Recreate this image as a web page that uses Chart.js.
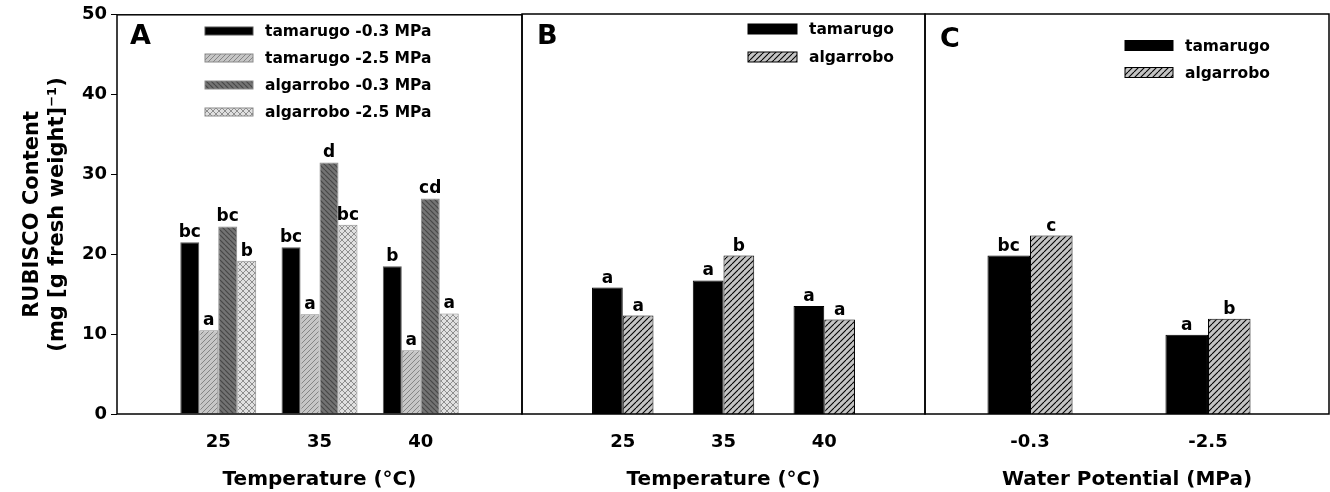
<!DOCTYPE html>
<html>
<head>
<meta charset="utf-8">
<script src="https://cdn.jsdelivr.net/npm/chart.js@4.4.0/dist/chart.umd.min.js"></script>
<style>
  body { margin: 0; background: #fff; }
  .panel { position: absolute; left: 0; top: 0; width: 1330px; height: 492px; }
</style>
</head>
<body>
<div class="panel"><canvas id="chartA"></canvas></div>
<div class="panel"><canvas id="chartB"></canvas></div>
<div class="panel"><canvas id="chartC"></canvas></div>
<script>
// datos
const tempLabels = ['25', '35', '40'];
const potLabels = ['-0.3', '-2.5'];

// panel A
const tamarugoWet = [21.5, 20.9, 18.5];
const tamarugoDry = [10.5, 12.5, 8.0];
const algarroboWet = [23.5, 31.5, 27.0];
const algarroboDry = [19.2, 23.7, 12.6];
const lettersTamWet = ['bc', 'bc', 'b'];
const lettersTamDry = ['a', 'a', 'a'];
const lettersAlgWet = ['bc', 'd', 'cd'];
const lettersAlgDry = ['b', 'bc', 'a'];

// panel B
const tamarugoTemp = [15.8, 16.7, 13.5];
const algarroboTemp = [12.3, 19.8, 11.8];
const lettersTamTemp = ['a', 'a', 'a'];
const lettersAlgTemp = ['a', 'b', 'a'];

// panel C
const tamarugoPot = [19.8, 9.9];
const algarroboPot = [22.3, 11.9];
const lettersTamPot = ['bc', 'a'];
const lettersAlgPot = ['c', 'b'];

const FONT = 'DejaVu Sans';
Chart.defaults.font.family = FONT;
Chart.defaults.font.weight = 'bold';
Chart.defaults.color = '#000';

// tramas
function hatch(bg, fg, size, dirs, lw) {
  const c = document.createElement('canvas');
  c.width = size; c.height = size;
  const g = c.getContext('2d');
  g.fillStyle = bg;
  g.fillRect(0, 0, size, size);
  g.strokeStyle = fg;
  g.lineWidth = lw;
  for (const k of [-size, 0, size]) {
    if (dirs.includes('/')) {
      g.beginPath(); g.moveTo(k, size); g.lineTo(k + size, 0); g.stroke();
    }
    if (dirs.includes('\\')) {
      g.beginPath(); g.moveTo(k, 0); g.lineTo(k + size, size); g.stroke();
    }
  }
  return g.createPattern(c, 'repeat');
}

const fillTamDry = hatch('#c6c6c6', '#858585', 5, '/', 1);
const fillAlgWet = hatch('#737373', '#474747', 5, '\\', 1.2);
const fillAlgDry = hatch('#e0e0e0', '#8e8e8e', 6, '/\\', 1);
const fillAlgBC = hatch('#c4c4c4', '#000', 6, '/', 1.1);

// marco del panel
const framePlugin = {
  id: 'frame',
  afterDraw(chart) {
    const a = chart.chartArea;
    const ctx = chart.ctx;
    ctx.save();
    ctx.strokeStyle = '#000';
    ctx.lineWidth = 1.5;
    ctx.strokeRect(a.left, a.top, a.right - a.left, a.bottom - a.top);
    ctx.restore();
  }
};

// letras sobre las barras
const lettersPlugin = {
  id: 'letters',
  afterDatasetsDraw(chart) {
    const ctx = chart.ctx;
    ctx.save();
    ctx.font = 'bold 17px ' + FONT;
    ctx.fillStyle = '#000';
    ctx.textAlign = 'center';
    ctx.textBaseline = 'bottom';
    chart.data.datasets.forEach((ds, i) => {
      chart.getDatasetMeta(i).data.forEach((bar, j) => {
        ctx.fillText(ds.letters[j], bar.x, bar.y - 1);
      });
    });
    ctx.restore();
  }
};

// leyenda y letra del panel
const panelLegend = {
  id: 'panelLegend',
  afterDraw(chart, args, opts) {
    const ctx = chart.ctx;
    ctx.save();
    ctx.fillStyle = '#000';
    ctx.font = 'bold 27px ' + FONT;
    ctx.textBaseline = 'alphabetic';
    ctx.fillText(opts.letter, opts.letterX, opts.letterY);
    ctx.font = 'bold 15.5px ' + FONT;
    ctx.textBaseline = 'middle';
    chart.data.datasets.forEach((ds, i) => {
      const y = opts.y + i * opts.rowH;
      ctx.fillStyle = ds.backgroundColor;
      ctx.fillRect(opts.x, y - opts.boxH / 2, opts.boxW, opts.boxH);
      ctx.strokeStyle = ds.borderColor;
      ctx.lineWidth = 1;
      ctx.strokeRect(opts.x, y - opts.boxH / 2, opts.boxW, opts.boxH);
      ctx.fillStyle = '#000';
      ctx.fillText(ds.label, opts.x + opts.boxW + 12, y + 1);
    });
    ctx.restore();
  }
};

function points(values) {
  return values.map((v, i) => ({ x: i + 1, y: v }));
}

function makeOptions(cfg) {
  return {
    responsive: true,
    maintainAspectRatio: false,
    animation: false,
    layout: { padding: { left: cfg.left, right: cfg.right, top: 14, bottom: 0 } },
    datasets: { bar: { categoryPercentage: cfg.catPct, barPercentage: 1 } },
    plugins: {
      legend: { display: false },
      tooltip: { enabled: false },
      panelLegend: cfg.legend
    },
    scales: {
      x: {
        type: 'linear',
        min: cfg.xmin,
        max: cfg.xmax,
        offset: false,
        grid: { display: false, offset: false },
        border: { display: false },
        afterBuildTicks: (scale) => {
          scale.ticks = cfg.labels.map((l, i) => ({ value: i + 1 }));
        },
        afterFit: (scale) => { scale.height = 78; },
        ticks: {
          autoSkip: false,
          maxRotation: 0,
          padding: 10,
          font: { size: 18, weight: 'bold' },
          callback: (v, i) => cfg.labels[i]
        },
        title: {
          display: true,
          text: cfg.xTitle,
          font: { size: 20, weight: 'bold' },
          padding: { top: 0, bottom: 0 }
        }
      },
      y: {
        display: cfg.showY,
        min: 0,
        max: 50,
        afterFit: (scale) => { scale.width = cfg.showY ? 117 : 0; },
        border: { display: false },
        grid: { drawOnChartArea: false, drawTicks: true, tickLength: 6, color: '#000', lineWidth: 1 },
        ticks: { stepSize: 10, padding: 4, font: { size: 18, weight: 'bold' } },
        title: {
          display: true,
          text: ['RUBISCO Content', '(mg [g fresh weight]\u207B\u00B9)'],
          font: { size: 21, weight: 'bold' },
          padding: { top: 20, bottom: 0 }
        }
      }
    }
  };
}

new Chart(document.getElementById('chartA'), {
  type: 'bar',
  data: {
    datasets: [
      { label: 'tamarugo -0.3 MPa', data: points(tamarugoWet), letters: lettersTamWet,
        backgroundColor: '#000', borderColor: '#555', borderWidth: 1 },
      { label: 'tamarugo -2.5 MPa', data: points(tamarugoDry), letters: lettersTamDry,
        backgroundColor: fillTamDry, borderColor: '#8a8a8a', borderWidth: 1 },
      { label: 'algarrobo -0.3 MPa', data: points(algarroboWet), letters: lettersAlgWet,
        backgroundColor: fillAlgWet, borderColor: '#8a8a8a', borderWidth: 1 },
      { label: 'algarrobo -2.5 MPa', data: points(algarroboDry), letters: lettersAlgDry,
        backgroundColor: fillAlgDry, borderColor: '#8a8a8a', borderWidth: 1 }
    ]
  },
  options: makeOptions({
    left: 0, right: 808, xmin: 0, xmax: 4, catPct: 0.75, labels: tempLabels,
    xTitle: 'Temperature (\u00B0C)', showY: true,
    legend: { letter: 'A', letterX: 130, letterY: 44, x: 205, y: 31, boxW: 48, boxH: 8, rowH: 27 }
  }),
  plugins: [framePlugin, lettersPlugin, panelLegend]
});

new Chart(document.getElementById('chartB'), {
  type: 'bar',
  data: {
    datasets: [
      { label: 'tamarugo', data: points(tamarugoTemp), letters: lettersTamTemp,
        backgroundColor: '#000', borderColor: '#000', borderWidth: 1 },
      { label: 'algarrobo', data: points(algarroboTemp), letters: lettersAlgTemp,
        backgroundColor: fillAlgBC, borderColor: '#000', borderWidth: 1 }
    ]
  },
  options: makeOptions({
    left: 522, right: 405, xmin: 0, xmax: 4, catPct: 0.61, labels: tempLabels,
    xTitle: 'Temperature (\u00B0C)', showY: false,
    legend: { letter: 'B', letterX: 537, letterY: 44, x: 748, y: 29, boxW: 49, boxH: 10, rowH: 28 }
  }),
  plugins: [framePlugin, lettersPlugin, panelLegend]
});

new Chart(document.getElementById('chartC'), {
  type: 'bar',
  data: {
    datasets: [
      { label: 'tamarugo', data: points(tamarugoPot), letters: lettersTamPot,
        backgroundColor: '#000', borderColor: '#000', borderWidth: 1 },
      { label: 'algarrobo', data: points(algarroboPot), letters: lettersAlgPot,
        backgroundColor: fillAlgBC, borderColor: '#000', borderWidth: 1 }
    ]
  },
  options: makeOptions({
    left: 925, right: 1, xmin: 0.41, xmax: 2.68, catPct: 0.478, labels: potLabels,
    xTitle: 'Water Potential (MPa)', showY: false,
    legend: { letter: 'C', letterX: 940, letterY: 47, x: 1125, y: 45.5, boxW: 48, boxH: 10, rowH: 27 }
  }),
  plugins: [framePlugin, lettersPlugin, panelLegend]
});
</script>
</body>
</html>
